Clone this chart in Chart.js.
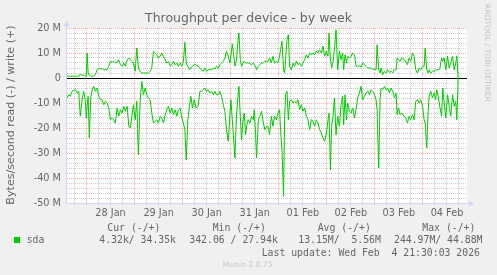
<!DOCTYPE html>
<html>
<head>
<meta charset="utf-8">
<script src="https://cdn.jsdelivr.net/npm/chart.js@4.4.1/dist/chart.umd.min.js"></script>
<style>
  html, body { margin: 0; padding: 0; background: #f0f0f0; }
  canvas { display: block; }
</style>
</head>
<body>
<canvas id="throughputChart" width="497" height="275"></canvas>
<script>
// time of each sample, hours since 27 Jan 00:00
const hours = [
  14.3, 15.1, 15.9, 16.8, 17.6, 18.4, 19.3, 20.1, 20.9, 21.8,
  22.6, 23.4, 23.9, 24.3, 24.8, 25.4, 26.1, 26.8, 27.6, 28.4,
  29.3, 30.1, 30.9, 31.8, 32.6, 33.4, 34.3, 35.1, 35.9, 36.8,
  37.6, 38.4, 39.3, 40.1, 40.9, 41.8, 42.6, 43.4, 44.3, 45.1,
  45.9,
  47.4, 48.3, 49.1, 49.9, 50.8, 51.6, 52.4, 53.3, 54.1, 54.9,
  55.8, 56.6, 57.4, 58.3, 59.1, 59.9, 60.8, 61.6, 62.4, 63.3,
  64.1, 64.9, 65.8, 66.6, 67.4, 68.3, 69.1, 69.9, 70.8, 71.6,
  72.4, 73.1, 73.8, 74.6, 75.4, 76.1, 76.9, 77.8, 78.6,
  79.8, 80.6, 81.4, 82.3, 83.1, 83.9, 84.8, 85.6, 86.4, 87.3,
  88.1, 88.9, 89.8, 90.6, 91.4, 92.3, 93.1, 93.9, 94.8, 95.6,
  96.1, 96.8, 97.4, 98.1, 98.8, 99.4, 100.1, 100.8, 101.4, 102.1,
  102.8, 103.4, 104.1, 104.8, 105.6, 106.4, 107.3, 107.8, 108.4, 108.9,
  109.8, 110.6, 111.4, 112.3, 113.1, 113.9,
  114.6, 115.4, 116.3, 117.1, 117.9, 118.8, 119.6, 120.4,
  120.9, 121.6, 122.4, 122.9, 123.4, 124.1, 124.8,
  125.4, 126.3, 127.1, 127.9, 128.8, 129.6, 130.4, 131.3, 132.1, 132.9,
  133.8, 134.6, 135.4, 136.3, 137.1, 137.9, 138.8, 139.6, 140.4, 141.3,
  142.1, 142.9, 143.8, 144.6,
  145.1, 145.8, 146.4, 147.1,
  147.8, 148.6, 149.4, 150.3, 151.1, 151.9,
  152.4, 153.1, 153.8,
  154.4, 155.3, 156.1, 156.9, 157.8, 158.6, 159.4, 160.3, 161.1, 161.9,
  162.8, 163.6, 164.4, 165.3, 166.1, 166.9, 167.8, 168.6,
  169.1, 169.9, 170.6,
  171.1, 171.9, 172.8, 173.6, 174.4, 175.3, 176.1, 176.9, 177.8, 178.6,
  179.1, 179.8, 180.6, 181.4,
  182.6, 183.4, 184.3, 185.1, 185.9, 186.8, 187.6, 188.4, 189.3, 190.1,
  190.9, 191.8, 192.6,
  193.1, 193.9, 194.6, 195.1, 195.9, 196.8, 197.6, 198.4,
  198.9, 199.6, 200.4, 201.3, 201.9, 202.6, 203.4, 204.3, 205.1, 205.9,
  206.8, 207.6, 208.4, 208.9, 209.6
];

// write (+), MB/s
const writeMBps = [
  0.7, 0.7, 0.7, 0.7, 0.7, 0.7, 0.7, 0.7, 1.6, 1.1,
  1.1, 0.7, 0.7, 10.0, 2.0, 1.3, 0.7, 0.7, 0.7, 1.3,
  3.3, 4.0, 3.6, 3.7, 3.3, 3.3, 3.3, 4.7, 6.7, 6.3,
  6.7, 6.0, 6.3, 7.3, 5.3, 4.7, 6.0, 4.7, 7.3, 8.0,
  7.3,
  6.0, 2.7, 12.0, 4.0, 2.7, 2.0, 2.0, 2.0, 2.0, 2.0,
  2.7, 4.0, 10.7, 10.0, 9.3, 8.0, 8.7, 10.0, 8.7, 7.3,
  6.0, 6.7, 4.7, 5.3, 6.7, 5.3, 6.0, 4.7, 6.0, 4.7,
  6.7, 14.3, 6.0, 4.7, 3.3, 4.0, 4.7, 5.3, 5.3,
  4.7, 4.0, 3.3, 2.7, 4.0, 2.7, 3.3, 3.6, 3.1, 4.0,
  3.6, 4.7, 4.0, 5.3, 6.0, 6.7, 8.0, 10.7, 8.7, 6.0,
  8.7, 13.7, 10.0, 4.7, 6.7, 12.7, 18.0, 7.3, 4.7, 6.0,
  6.7, 6.0, 6.0, 6.0, 5.7, 5.3, 6.0, 5.3, 4.7, 3.3,
  4.7, 5.3, 6.0, 6.0, 6.7, 6.7,
  6.7, 8.0, 6.0, 8.7, 6.0, 6.7, 6.0, 8.7,
  11.3, 14.7, 3.3, 2.0, 7.3, 15.3, 17.3,
  4.7, 3.3, 6.0, 4.7, 6.7, 5.3, 6.0, 4.7, 6.0, 7.3,
  9.3, 8.0, 10.0, 9.3, 10.0, 9.3, 10.7, 10.0, 11.3, 10.0,
  12.7, 8.7, 10.7, 8.7,
  18.0, 7.3, 4.0, 6.7,
  11.3, 19.3, 3.3, 10.7, 7.3, 10.0,
  3.3, 9.3, 6.0,
  8.7, 8.0, 8.7, 10.0, 9.3, 4.7, 4.7, 4.9, 4.4, 6.0,
  5.3, 4.7, 4.0, 4.0, 4.0, 3.6, 3.3, 3.3,
  13.3, 3.3, 2.0,
  4.0, 1.3, 2.7, 2.0, 3.3, 2.3, 2.7, 2.0, 3.3, 3.3,
  8.0, 7.3, 6.7, 8.0,
  7.3, 6.7, 5.3, 8.0, 6.7, 10.0, 8.7, 3.3, 2.0, 4.0,
  3.3, 4.7, 4.7,
  12.0, 3.3, 2.0, 3.3, 2.0, 2.7, 2.7, 3.1,
  3.3, 3.3, 3.6, 8.0, 6.7, 8.0, 3.3, 8.7, 4.0, 6.0,
  8.7, 3.3, 6.0, 8.9, 0
];

// read (-), MB/s
const readMBps = [
  -8.0, -6.7, -7.3, -5.3, -4.9, -4.7, -6.0, -5.3, -15.3, -8.7,
  -5.3, -9.3, -16.0, -11.3, -7.3, -24.0, -8.0, -4.7, -3.3, -5.3,
  -4.0, -7.3, -8.7, -8.7, -10.7, -9.3, -10.0, -12.0, -16.7, -16.0,
  -16.7, -18.0, -12.0, -15.3, -12.7, -14.0, -11.3, -13.3, -11.3, -19.3,
  -20.0,
  -10.7, -16.7, -9.3, -30.7, -8.7, -1.3, -6.7, -4.0, -6.7, -8.0,
  -8.7, -14.0, -18.0, -17.3, -16.7, -18.0, -15.3, -16.0, -18.0, -14.7,
  -12.7, -11.3, -14.0, -12.0, -14.7, -12.7, -15.3, -12.7, -12.0, -16.0,
  -18.0, -20.7, -32.7, -16.7, -11.3, -7.3, -12.0, -8.7, -12.0,
  -11.3, -5.3, -5.3, -4.7, -4.0, -5.3, -4.7, -6.0, -5.3, -6.7,
  -5.3, -6.7, -6.7, -5.3, -7.3, -10.7, -13.3, -20.7, -25.3, -15.3,
  -8.7, -16.7, -24.0, -32.0, -16.7, -9.3, -3.3, -15.3, -24.7, -17.3,
  -14.0, -22.7, -18.7, -16.7, -18.0, -15.3, -16.7, -12.7, -22.0, -32.0,
  -16.7, -15.3, -13.3, -18.0, -20.7, -19.3,
  -19.3, -22.7, -15.3, -19.3, -15.3, -16.7, -14.0, -12.7,
  -20.7, -28.7, -47.3, -16.7, -6.7, -5.3, -16.7,
  -9.3, -8.7, -10.0, -9.3, -10.0, -8.7, -12.7, -10.7, -13.3, -12.0,
  -15.3, -16.7, -20.7, -16.7, -17.3, -19.3, -16.7, -18.0, -20.7, -22.0,
  -24.0, -25.3, -22.0, -16.7,
  -14.0, -36.7, -19.3, -15.3,
  -8.0, -22.7, -15.3, -19.3, -10.7, -7.3,
  -18.7, -6.7, -16.7,
  -10.0, -13.3, -14.0, -12.0, -16.0, -12.7, -8.0, -6.0, -3.3, -8.7,
  -7.3, -6.0, -5.3, -6.7, -4.7, -5.3, -6.7, -8.7,
  -12.7, -36.0, -8.7,
  -4.0, -4.7, -3.3, -4.7, -4.0, -6.0, -4.0, -5.3, -8.0, -6.0,
  -14.7, -12.0, -14.7, -14.0,
  -15.3, -16.0, -18.0, -15.3, -16.7, -14.7, -16.7, -9.3, -8.7, -10.0,
  -8.7, -11.3, -16.7,
  -18.0, -28.0, -13.3, -7.3, -5.3, -8.0, -6.0, -8.7,
  -4.7, -7.3, -11.3, -15.3, -4.0, -10.0, -16.0, -6.7, -11.3, -15.3,
  -6.7, -11.3, -9.3, -16.7, 0
];

// day labels sit at noon of each day, first one 28 Jan (hour 36)
const dayLabels = ['28 Jan', '29 Jan', '30 Jan', '31 Jan', '01 Feb', '02 Feb', '03 Feb', '04 Feb'];
const yMajorValues = [20, 10, 0, -10, -20, -30, -40, -50];
const yMajorLabels = ['20 M', '10 M', '0', '-10 M', '-20 M', '-30 M', '-40 M', '-50 M'];

const legendHeads = ['Cur (-/+)', 'Min (-/+)', 'Avg (-/+)', 'Max (-/+)'];
const legendValues = ['4.32k/ 34.35k', '342.06 / 27.94k', '13.15M/  5.56M', '244.97M/ 44.88M'];
const lastUpdate = 'Last update: Wed Feb  4 21:30:03 2026';

const textColor = '#666666';
const lineColor = '#00cc00';
const axisColor = '#cfd6f8';
const majorGrid = 'rgba(255,0,0,0.35)';
const minorGrid = 'rgba(140,140,140,0.45)';

const xMin = 14.25, xMax = 214;
const xGrid = [];
for (let h = 18; h <= 210; h += 6) xGrid.push(h);
const yGrid = [];
for (let v = -50; v <= 20; v += 2) yGrid.push(v);

const munin = {
  id: 'munin',
  beforeDraw(chart) {
    const {ctx, chartArea: a} = chart;
    ctx.save();
    ctx.fillStyle = '#f0f0f0';
    ctx.fillRect(0, 0, chart.width, chart.height);
    ctx.fillStyle = '#ffffff';
    ctx.fillRect(a.left, a.top, a.right - a.left, a.bottom - a.top);
    ctx.restore();
  },
  beforeDatasetsDraw(chart) {
    const {ctx, chartArea: a, scales: {y}} = chart;
    const y0 = Math.round(y.getPixelForValue(0)) + 0.5;
    ctx.save();
    ctx.strokeStyle = '#000000';
    ctx.lineWidth = 1;
    ctx.beginPath();
    ctx.moveTo(a.left, y0);
    ctx.lineTo(a.right, y0);
    ctx.stroke();
    ctx.restore();
  },
  afterDraw(chart) {
    const {ctx, chartArea: a} = chart;
    ctx.save();

    // axes + arrows
    ctx.strokeStyle = axisColor;
    ctx.fillStyle = axisColor;
    ctx.lineWidth = 1;
    ctx.beginPath();
    ctx.moveTo(a.left - 0.5, a.bottom + 0.5);
    ctx.lineTo(a.left - 0.5, a.top - 2);
    ctx.moveTo(a.left - 0.5, a.bottom + 0.5);
    ctx.lineTo(a.right + 2, a.bottom + 0.5);
    ctx.stroke();
    ctx.beginPath();
    ctx.moveTo(a.left - 3.5, a.top - 2);
    ctx.lineTo(a.left + 2.5, a.top - 2);
    ctx.lineTo(a.left - 0.5, a.top - 7);
    ctx.closePath();
    ctx.fill();
    ctx.beginPath();
    ctx.moveTo(a.right + 2, a.bottom - 2.5);
    ctx.lineTo(a.right + 2, a.bottom + 3.5);
    ctx.lineTo(a.right + 7, a.bottom + 0.5);
    ctx.closePath();
    ctx.fill();

    // title
    ctx.fillStyle = textColor;
    ctx.textBaseline = 'alphabetic';
    ctx.textAlign = 'center';
    ctx.font = '12.5px "DejaVu Sans"';
    ctx.fillText('Throughput per device - by week', 248.5, 22);

    // vertical unit label
    ctx.save();
    ctx.translate(13.5, 115);
    ctx.rotate(-Math.PI / 2);
    ctx.font = '11.1px "DejaVu Sans"';
    ctx.fillText('Bytes/second read (-) / write (+)', 0, 0);
    ctx.restore();

    // rrdtool watermark
    ctx.save();
    ctx.translate(485, 53);
    ctx.rotate(Math.PI / 2);
    ctx.fillStyle = '#c4c4c4';
    ctx.font = '7.6px "DejaVu Sans"';
    ctx.fillText('RRDTOOL / TOBI OETIKER', 0, 0);
    ctx.restore();

    // legend
    ctx.textAlign = 'left';
    ctx.font = '9.8px "DejaVu Sans Mono"';
    const headX = [107.3, 212.7, 317.7, 422.3];
    const valX = [99.3, 189.3, 298.3, 394];
    legendHeads.forEach((t, i) => ctx.fillText(t, headX[i], 230.5));
    legendValues.forEach((t, i) => ctx.fillText(t, valX[i], 243));
    ctx.fillText('sda', 26.7, 243);
    ctx.fillText(lastUpdate, 261.7, 255.5);
    ctx.fillStyle = lineColor;
    ctx.fillRect(14, 237, 6, 6);

    ctx.fillStyle = '#c8c8c8';
    ctx.textAlign = 'center';
    ctx.font = '7.6px "DejaVu Sans"';
    ctx.fillText('Munin 2.0.75', 247.7, 266.5);

    ctx.restore();
  }
};

new Chart(document.getElementById('throughputChart'), {
  type: 'line',
  data: {
    datasets: [
      {
        label: 'sda read',
        data: hours.map((h, i) => ({x: h, y: readMBps[i]})),
        borderColor: lineColor,
        borderWidth: 1,
        pointRadius: 0,
        tension: 0
      },
      {
        label: 'sda write',
        data: hours.map((h, i) => ({x: h, y: writeMBps[i]})),
        borderColor: lineColor,
        borderWidth: 1,
        pointRadius: 0,
        tension: 0
      }
    ]
  },
  options: {
    responsive: false,
    animation: false,
    events: [],
    layout: {padding: {left: 27, right: 30, top: 28, bottom: 52}},
    plugins: {
      legend: {display: false},
      tooltip: {enabled: false}
    },
    scales: {
      x: {
        type: 'linear',
        min: xMin,
        max: xMax,
        afterBuildTicks: s => { s.ticks = xGrid.map(v => ({value: v})); },
        afterFit: s => { s.height = 20; },
        grid: {
          color: c => (c.tick && c.tick.value % 24 === 0) ? majorGrid : minorGrid,
          tickColor: c => (c.tick && c.tick.value % 24 === 0) ? majorGrid : minorGrid,
          lineWidth: 1,
          drawTicks: true,
          tickLength: 2
        },
        border: {display: false, dash: [1, 1]},
        ticks: {
          autoSkip: false,
          maxRotation: 0,
          padding: 3,
          color: textColor,
          font: {family: 'DejaVu Sans', size: 9.72},
          callback: v => {
            const k = (v - 36) / 24;
            return Number.isInteger(k) && dayLabels[k] ? dayLabels[k] : '';
          }
        }
      },
      y: {
        min: -50,
        max: 20,
        afterBuildTicks: s => { s.ticks = yGrid.map(v => ({value: v})); },
        afterFit: s => { s.width = 40; },
        grid: {
          color: c => (c.tick && c.tick.value % 10 === 0) ? majorGrid : minorGrid,
          lineWidth: 1,
          drawTicks: false
        },
        border: {display: false, dash: [1, 1]},
        ticks: {
          autoSkip: false,
          padding: 6,
          color: textColor,
          font: {family: 'DejaVu Sans', size: 9.72},
          callback: v => {
            const i = yMajorValues.indexOf(v);
            return i >= 0 ? yMajorLabels[i] : '';
          }
        }
      }
    }
  },
  plugins: [munin]
});
</script>
</body>
</html>
